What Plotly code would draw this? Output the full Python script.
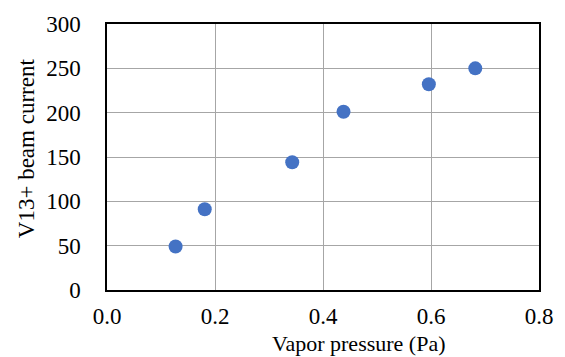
import plotly.graph_objects as go

pressure = [0.127, 0.181, 0.343, 0.438, 0.596, 0.682]
current = [49, 91, 144, 201, 232, 250]
x_ticks = [0.0, 0.2, 0.4, 0.6, 0.8]
x_tick_text = ["0.0", "0.2", "0.4", "0.6", "0.8"]
y_ticks = [0, 50, 100, 150, 200, 250, 300]

font_family = "Liberation Serif"
tick_font = dict(family=font_family, size=23, color="black")

W, H = 565, 357
l, r, t, b = 107, 20, 22, 67
pw, ph = W - l - r, H - t - b


def px_to_paper(px, py):
    return (px - l) / pw, (H - b - py) / ph


xt = px_to_paper(363, 344)
yt = px_to_paper(25, 147)

fig = go.Figure()
fig.add_trace(go.Scatter(
    x=pressure, y=current, mode="markers",
    marker=dict(size=14, color="#4472C4"),
    showlegend=False,
))

fig.update_layout(
    width=W, height=H,
    margin=dict(l=l, r=r, t=t, b=b),
    paper_bgcolor="white", plot_bgcolor="white",
    font=dict(family=font_family, size=22, color="black"),
    xaxis=dict(
        range=[0, 0.8], tickvals=x_ticks, ticktext=x_tick_text,
        tickfont=tick_font,
        showgrid=True, gridcolor="#A6A6A6", gridwidth=1,
        showline=True, linecolor="black", linewidth=1.5, mirror=True,
        ticks="outside", ticklen=0, ticklabelstandoff=5,
        zeroline=False,
    ),
    yaxis=dict(
        range=[0, 300], tickvals=y_ticks,
        tickfont=tick_font,
        showgrid=True, gridcolor="#A6A6A6", gridwidth=1,
        showline=True, linecolor="black", linewidth=1.5, mirror=True,
        ticks="outside", ticklen=0, ticklabelstandoff=20,
        zeroline=False,
    ),
    annotations=[
        dict(text="Vapor pressure (Pa)", x=xt[0], y=xt[1], xref="paper", yref="paper",
             xanchor="center", yanchor="middle", showarrow=False,
             font=dict(family=font_family, size=22, color="black")),
        dict(text="V13+ beam current", x=yt[0], y=yt[1], xref="paper", yref="paper",
             xanchor="center", yanchor="middle", showarrow=False, textangle=-90,
             font=dict(family=font_family, size=23, color="black")),
    ],
)

fig.write_html("out.html")
